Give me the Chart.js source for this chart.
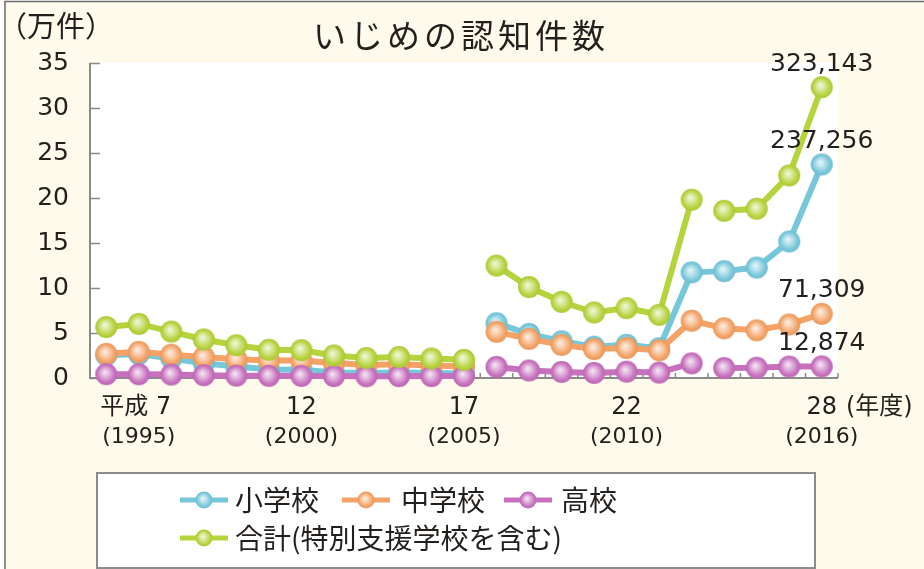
<!DOCTYPE html>
<html lang="ja">
<head>
<meta charset="utf-8">
<title>いじめの認知件数</title>
<script src="https://cdn.jsdelivr.net/npm/chart.js@4.4.1/dist/chart.umd.min.js"></script>
<style>
  html, body { margin: 0; padding: 0; background: #fefbec; }
  canvas { display: block; }
</style>
</head>
<body>
<canvas id="chart" width="924" height="569"></canvas>
<script>
// School years, 平成6 (1994) to 平成28 (2016)
const years = [1994, 1995, 1996, 1997, 1998, 1999, 2000, 2001, 2002, 2003, 2004, 2005,
               2006, 2007, 2008, 2009, 2010, 2011, 2012, 2013, 2014, 2015, 2016];

// Recognised bullying cases (件)
const elementary = [25295, 26614, 21733, 16294, 12858, 9462, 9114, 6206, 5659, 6051, 5551, 5087,
                    60897, 48896, 40807, 34766, 36909, 33124, 117384, 118748, 122734, 151692, 237256];
const juniorHigh = [26828, 29069, 25862, 23234, 20801, 19383, 19371, 16635, 14562, 15159, 13915, 12794,
                    51310, 43505, 36795, 32111, 33323, 30749, 63634, 55248, 52971, 59502, 71309];
const highSchool = [4253, 4184, 3771, 3103, 2576, 2391, 2327, 2119, 1906, 2070, 2121, 2191,
                    12307, 8355, 6737, 5642, 7018, 6020, 16274, 11039, 11404, 12664, 12874];
const total      = [56601, 60096, 51544, 42790, 36396, 31359, 30918, 25037, 22205, 23351, 21671, 20143,
                    124898, 101097, 84648, 72778, 77630, 70231, 198109, 185803, 188072, 225132, 323143];

// Survey definitions changed: the line is not joined after these years
const elementaryBreaks = [2005];
const juniorHighBreaks = [2005];
const highSchoolBreaks = [2005, 2012];
const totalBreaks      = [2005, 2012];

// Axis labels
const yTicks = [0, 5, 10, 15, 20, 25, 30, 35];
const tickYears   = [1995, 2000, 2005, 2010, 2016];
const tickEra     = ['平成 7', '12', '17', '22', '28'];
const tickWestern = ['(1995)', '(2000)', '(2005)', '(2010)', '(2016)'];

const seriesNames = ['小学校', '中学校', '高校', '合計(特別支援学校を含む)'];
const UNIT = 10000; // 万件

const COLORS = {
  blue:   [118, 199, 218],
  orange: [244, 162, 101],
  purple: [199, 112, 190],
  green:  [181, 211, 60]
};

const FONT_NUM = '"DejaVu Sans", "Noto Sans CJK JP", sans-serif';
const FONT_JP  = '"Noto Sans CJK JP", "DejaVu Sans", sans-serif';
const TEXT = '#231f1c';

function rgb(c, a) { return a === undefined ? `rgb(${c[0]},${c[1]},${c[2]})` : `rgba(${c[0]},${c[1]},${c[2]},${a})`; }
function mix(c, d, t) { return rgb([0, 1, 2].map(i => Math.round(c[i] + (d[i] - c[i]) * t))); }

function drawSphere(ctx, x, y, r, c) {
  const g = ctx.createRadialGradient(x - r * 0.15, y - r * 0.2, 0, x, y, r);
  g.addColorStop(0, mix(c, [255, 255, 255], 0.85));
  g.addColorStop(0.4, mix(c, [255, 255, 255], 0.45));
  g.addColorStop(0.8, rgb(c));
  g.addColorStop(1, mix(c, [0, 0, 0], 0.06));
  ctx.fillStyle = g;
  ctx.beginPath();
  ctx.arc(x, y, r, 0, Math.PI * 2);
  ctx.fill();
}

function sphereImage(c, r) {
  const s = Math.ceil(r * 2 + 2);
  const cv = document.createElement('canvas');
  cv.width = cv.height = s;
  drawSphere(cv.getContext('2d'), s / 2, s / 2, r, c);
  return cv;
}

function series(name, values, breaks, color, order) {
  const breakIdx = breaks.map(y => years.indexOf(y));
  return {
    label: name,
    data: values.map(v => v / UNIT),
    rawValues: values,
    sphereColor: color,
    borderColor: rgb(color),
    borderWidth: 6,
    pointStyle: sphereImage(color, 11),
    pointRadius: 11,
    pointHoverRadius: 11,
    tension: 0,
    clip: false,
    order: order,
    segment: {
      borderColor: ctx => breakIdx.includes(ctx.p0DataIndex) ? 'rgba(0,0,0,0)' : undefined
    }
  };
}

// Backgrounds, frame, axis lines and inward ticks
const framePlugin = {
  id: 'frame',
  beforeDraw(chart) {
    const { ctx, chartArea: a, width, height } = chart;
    ctx.save();
    ctx.fillStyle = '#ffffff';
    ctx.fillRect(0, 0, width, height);
    ctx.fillStyle = '#fefbec';
    ctx.fillRect(6, 2, width - 6, height - 2);
    ctx.strokeStyle = '#6b6b6b';
    ctx.lineWidth = 1.5;
    ctx.beginPath();
    ctx.moveTo(5, height); ctx.lineTo(5, 1.5); ctx.lineTo(width, 1.5);
    ctx.stroke();
    ctx.fillStyle = '#ffffff';
    ctx.fillRect(a.left, a.top, a.right - a.left, a.bottom - a.top);
    ctx.restore();
  },
  beforeDatasetsDraw(chart) {
    const { ctx, chartArea: a, scales } = chart;
    const x = scales.x, y = scales.y;
    ctx.save();
    ctx.strokeStyle = '#8a8a8a';
    ctx.lineWidth = 2;
    ctx.beginPath();
    ctx.moveTo(a.left, a.top); ctx.lineTo(a.left, a.bottom); ctx.lineTo(a.right, a.bottom);
    ctx.stroke();
    ctx.lineWidth = 1.5;
    ctx.beginPath();
    yTicks.forEach(v => {
      const py = Math.round(y.getPixelForValue(v)) + 0.5;
      ctx.moveTo(a.left, py); ctx.lineTo(a.left + 10, py);
    });
    const n = years.length;
    for (let i = 0; i <= n; i++) {
      let px;
      if (i === 0) px = a.left;
      else if (i === n) px = a.right;
      else px = (x.getPixelForValue(i - 1) + x.getPixelForValue(i)) / 2;
      ctx.moveTo(px, a.bottom); ctx.lineTo(px, a.bottom - 5);
    }
    ctx.stroke();
    ctx.restore();
  },
  afterDraw(chart) {
    const { ctx, scales } = chart;
    const x = scales.x;
    ctx.save();
    ctx.fillStyle = TEXT;
    ctx.textAlign = 'center';
    ctx.textBaseline = 'middle';

    // Title with spaced characters
    const title = 'いじめの認知件数';
    ctx.font = '33px ' + FONT_JP;
    const step = 37, cx = 459;
    [...title].forEach((ch, i) => ctx.fillText(ch, cx + (i - (title.length - 1) / 2) * step, 35));

    // Unit
    ctx.textAlign = 'left';
    ctx.font = '29px ' + FONT_JP;
    ctx.fillText('（万件）', -2, 26);

    // Year labels
    ctx.textAlign = 'center';
    tickYears.forEach((yr, i) => {
      const px = x.getPixelForValue(years.indexOf(yr));
      ctx.font = '24px ' + FONT_NUM;
      ctx.fillText(tickEra[i], px - (i === 0 ? 3 : 0), 408);
      ctx.font = '22px ' + FONT_NUM;
      ctx.fillText(tickWestern[i], px, 437);
    });
    ctx.textAlign = 'left';
    ctx.font = '24px ' + FONT_NUM;
    ctx.fillText('(年度)', 846, 408);

    // Latest-year value labels
    ctx.textAlign = 'center';
    ctx.font = '25px ' + FONT_NUM;
    chart.data.datasets.forEach((ds, di) => {
      const meta = chart.getDatasetMeta(di);
      const last = meta.data.length - 1;
      const pt = meta.data[last];
      ctx.fillText(ds.rawValues[last].toLocaleString('en-US'), pt.x, pt.y - 23);
    });

    // Legend box
    const box = { l: 97, t: 473, r: 815, b: 568 };
    ctx.fillStyle = '#ffffff';
    ctx.fillRect(box.l, box.t, box.r - box.l, box.b - box.t);
    ctx.strokeStyle = '#8c8c8c';
    ctx.lineWidth = 2;
    ctx.strokeRect(box.l, box.t, box.r - box.l, box.b - box.t);

    const items = [
      { ds: 0, x: 180, y: 500, tx: 235 },
      { ds: 1, x: 342, y: 500, tx: 401 },
      { ds: 2, x: 504, y: 500, tx: 561 },
      { ds: 3, x: 180, y: 538, tx: 235 }
    ];
    items.forEach(it => {
      const ds = chart.data.datasets[it.ds];
      ctx.strokeStyle = ds.borderColor;
      ctx.lineWidth = 5;
      ctx.beginPath();
      ctx.moveTo(it.x, it.y); ctx.lineTo(it.x + 48, it.y);
      ctx.stroke();
      drawSphere(ctx, it.x + 24, it.y, 8.5, ds.sphereColor);
      ctx.fillStyle = TEXT;
      ctx.font = '28px ' + FONT_JP;
      ctx.textAlign = 'left';
      ctx.fillText(ds.label, it.tx, it.y);
    });
    ctx.restore();
  }
};

new Chart(document.getElementById('chart'), {
  type: 'line',
  data: {
    labels: years.map(String),
    datasets: [
      series(seriesNames[0], elementary, elementaryBreaks, COLORS.blue, 3),
      series(seriesNames[1], juniorHigh, juniorHighBreaks, COLORS.orange, 2),
      series(seriesNames[2], highSchool, highSchoolBreaks, COLORS.purple, 1),
      series(seriesNames[3], total, totalBreaks, COLORS.green, 0)
    ]
  },
  options: {
    responsive: false,
    animation: false,
    events: [],
    layout: { padding: { top: 63, right: 86, left: 0, bottom: 0 } },
    plugins: {
      legend: { display: false },
      title: { display: false },
      tooltip: { enabled: false }
    },
    scales: {
      x: {
        type: 'category',
        offset: true,
        grid: { display: false },
        border: { display: false },
        ticks: { display: false },
        afterFit(scale) { scale.height = 191; }
      },
      y: {
        min: 0,
        max: 35,
        grid: { display: false },
        border: { display: false },
        ticks: {
          stepSize: 5,
          padding: 13,
          color: TEXT,
          font: { family: FONT_NUM, size: 25 }
        },
        afterFit(scale) { scale.width = 90; }
      }
    }
  },
  plugins: [framePlugin]
});
</script>
</body>
</html>
